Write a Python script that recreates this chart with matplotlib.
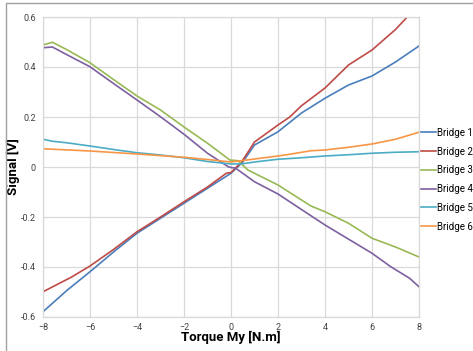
import matplotlib.pyplot as plt
from matplotlib.patches import Rectangle

plt.rcParams['font.family'] = ['Roboto', 'DejaVu Sans']

# torque [N.m] and bridge signals [V]
x_b1 = [-8, -7, -6, -5, -4, -3, -2, -1, 0, 0.5, 1, 2, 3, 4, 5, 6, 7, 8]
b1 = [-0.579, -0.495, -0.419, -0.34, -0.265, -0.205, -0.145, -0.085, -0.025,
      0.02, 0.088, 0.141, 0.216, 0.275, 0.328, 0.364, 0.42, 0.484]

x_b2 = [-8, -6.8, -6, -5, -4, -3, -2, -1, -0.2, 0, 0.45, 1, 2, 2.5, 3, 4, 5, 6, 7, 7.6]
b2 = [-0.499, -0.441, -0.396, -0.33, -0.259, -0.2, -0.139, -0.08, -0.025, -0.022,
      0.02, 0.1, 0.168, 0.2, 0.245, 0.316, 0.408, 0.468, 0.55, 0.61]

x_b3 = [-8, -7.6, -7, -6, -5, -4, -3, -2, -1, -0.05, 0.3, 0.72, 2, 3.4, 4, 5, 6, 7, 8]
b3 = [0.488, 0.499, 0.47, 0.417, 0.35, 0.284, 0.228, 0.16, 0.095, 0.028, 0.025,
      -0.012, -0.072, -0.156, -0.179, -0.225, -0.285, -0.32, -0.36]

x_b4 = [-8, -7.6, -7, -6, -5, -4, -3, -2, -1, -0.1, 0.2, 1, 2, 2.5, 4, 6, 6.8, 7.6, 8]
b4 = [0.477, 0.48, 0.45, 0.401, 0.334, 0.268, 0.201, 0.131, 0.055, 0.0, -0.005,
      -0.059, -0.108, -0.139, -0.232, -0.345, -0.399, -0.445, -0.479]

x_b5 = [-8, -7.6, -7, -6, -5, -4, -3, -2, -1, 0, 0.5, 1, 2, 3, 4, 5, 6, 7, 8]
b5 = [0.111, 0.103, 0.097, 0.084, 0.07, 0.057, 0.048, 0.037, 0.022, 0.012, 0.013,
      0.02, 0.031, 0.037, 0.044, 0.049, 0.055, 0.059, 0.061]

x_b6 = [-8, -6, -4, -2, -1, 0, 1, 2, 2.5, 3.4, 4, 5, 6, 7, 8]
b6 = [0.073, 0.064, 0.052, 0.039, 0.03, 0.02, 0.032, 0.044, 0.051, 0.065,
      0.068, 0.079, 0.092, 0.111, 0.139]

series = [("Bridge 1", x_b1, b1, "#4a7ebb"),
          ("Bridge 2", x_b2, b2, "#be4b48"),
          ("Bridge 3", x_b3, b3, "#98b954"),
          ("Bridge 4", x_b4, b4, "#7d60a0"),
          ("Bridge 5", x_b5, b5, "#4bacc6"),
          ("Bridge 6", x_b6, b6, "#f79646")]

fig = plt.figure(figsize=(4.73, 3.51), dpi=100)
ax = fig.add_axes([43 / 473, 34 / 351, 376 / 473, 300 / 351])

for name, xs, ys, c in series:
    ax.plot(xs, ys, color=c, lw=1.2, label=name)

ax.set_xlim(-8, 8)
ax.set_ylim(-0.6, 0.6)
ax.set_xticks(range(-8, 9, 2))
ax.set_yticks([-0.6, -0.4, -0.2, 0, 0.2, 0.4, 0.6])
ax.set_yticklabels(["-0.6", "-0.4", "-0.2", "0", "0.2", "0.4", "0.6"])
ax.tick_params(labelsize=6.5, length=0, colors="#404040")
ax.tick_params(axis="y", pad=5)
ax.tick_params(axis="x", pad=4)
ax.grid(True, color="#d9d9d9", lw=0.9)
ax.set_axisbelow(True)
for s in ax.spines.values():
    s.set_color("#d9d9d9")
    s.set_linewidth(0.9)

ax.set_xlabel("Torque My [N.m]", fontsize=9.5, fontweight="bold")
ax.xaxis.set_label_coords(0.5, -0.045)
ax.set_ylabel("Signal [V]", fontsize=9.5, fontweight="bold")
ax.yaxis.set_label_coords(-0.062, 0.5)

leg = ax.legend(loc="upper left", bbox_to_anchor=(1.0, 0.637), frameon=False,
                fontsize=7, handlelength=1.5, handletextpad=0.1,
                labelspacing=0.9, borderaxespad=0.2, borderpad=0)

# outer chart-area border (cut at right and bottom in the original)
fig.patches.append(Rectangle((6 / 473, -0.1), 1.2, 1.1 - 3 / 351,
                             transform=fig.transFigure, fill=False,
                             edgecolor="#a0a0a0", lw=1.0))

fig.savefig("out.png", dpi=100)
